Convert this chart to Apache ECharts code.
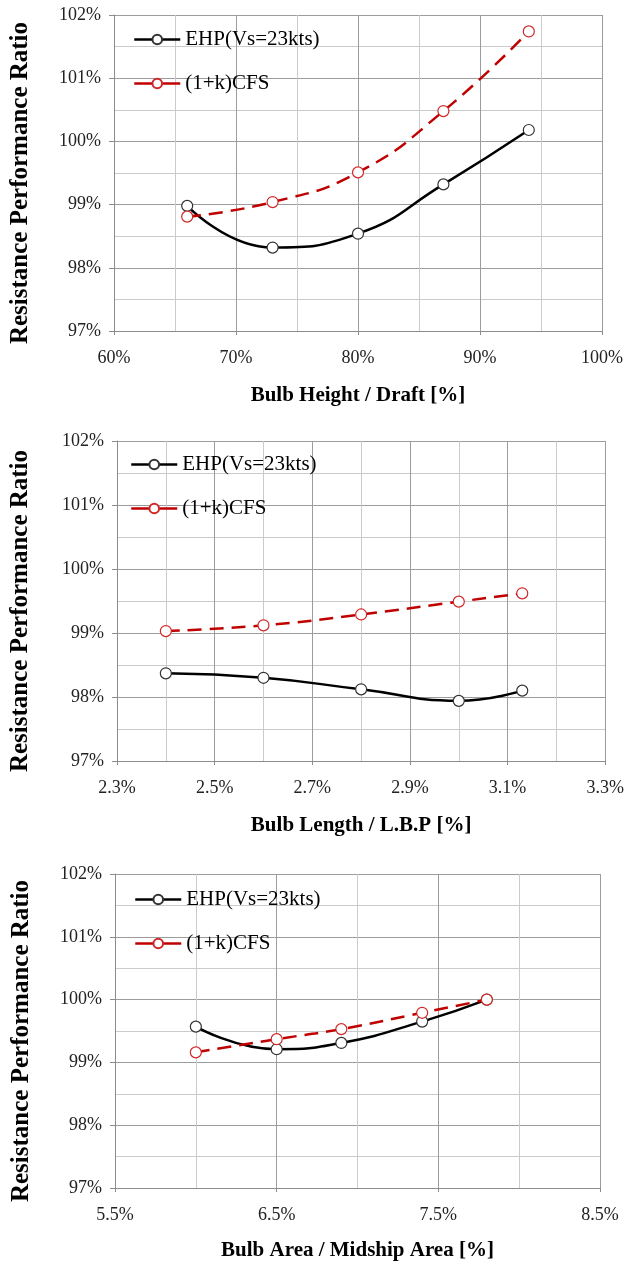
<!DOCTYPE html>
<html>
<head>
  <meta charset="utf-8">
  <title>Resistance Performance Ratio</title>
  <style>
    body { margin: 0; background: #fff; }
    #main { width: 627px; height: 1263px; }
  </style>
</head>
<body>
  <div id="main"></div>
  <script src="https://cdn.jsdelivr.net/npm/echarts@6/dist/echarts.min.js"></script>
  <script type="text/javascript">
    // chart 1: bulb height / draft
    const heightX = [66, 73, 80, 87, 94]
    const heightEHP = [98.98, 98.32, 98.54, 99.32, 100.18]
    const heightCFS = [98.81, 99.04, 99.51, 100.48, 101.74]
    const heightTicks = [60, 70, 80, 90, 100]

    // chart 2: bulb length / L.B.P
    const lengthX = [2.4, 2.6, 2.8, 3.0, 3.13]
    const lengthEHP = [98.37, 98.30, 98.12, 97.94, 98.10]
    const lengthCFS = [99.03, 99.12, 99.29, 99.49, 99.62]
    const lengthTicks = [2.3, 2.5, 2.7, 2.9, 3.1, 3.3]

    // chart 3: bulb area / midship area
    const areaX = [6.0, 6.5, 6.9, 7.4, 7.8]
    const areaEHP = [99.57, 99.21, 99.31, 99.65, 100.0]
    const areaCFS = [99.16, 99.37, 99.53, 99.79, 100.0]
    const areaTicks = [5.5, 6.5, 7.5, 8.5]

    const yTicks = [97, 98, 99, 100, 101, 102]

    const NAME_EHP = 'EHP(Vs=23kts)'
    const NAME_CFS = '(1+k)CFS'
    const FONT = 'Liberation Serif'
    const DARK = '#9c9c9c'
    const LIGHT = '#cbcbcb'
    const AXIS = '#8c8c8c'

    let zip = (xs, ys) => xs.map((x, i) => [x, ys[i]])

    let grids = [
      { left: 113, top: 15, width: 489, height: 316 },
      { left: 111, top: 441, width: 496, height: 320 },
      { left: 115, top: 874, width: 485, height: 314 },
    ]

    let xConf = [
      { name: 'Bulb Height / Draft [%]', ticks: heightTicks, digits: 0, gap: 54 },
      { name: 'Bulb Length / L.B.P [%]', ticks: lengthTicks, digits: 1, gap: 54 },
      { name: 'Bulb Area / Midship Area [%]', ticks: areaTicks, digits: 1, gap: 52 },
    ]
    let yGaps = [81, 84, 81]
    let legendPos = [
      { left: 133, top: 29 },
      { left: 130, top: 454 },
      { left: 134, top: 889 },
    ]
    let seriesData = [
      [heightX, heightEHP, heightCFS],
      [lengthX, lengthEHP, lengthCFS],
      [areaX, areaEHP, areaCFS],
    ]

    // major lines at the labelled ticks, lighter minor line half way between
    let gridLines = {
      splitLine: { show: true, lineStyle: { color: DARK, width: 1 } },
      minorTick: { show: false, splitNumber: 2 },
      minorSplitLine: { show: true, lineStyle: { color: LIGHT, width: 1 } },
    }

    let xAxes = xConf.map((c, i) => {
      let t = c.ticks
      return Object.assign({
        type: 'value',
        gridIndex: i,
        min: t[0],
        max: t[t.length - 1],
        interval: t[1] - t[0],
        name: c.name,
        nameLocation: 'middle',
        nameGap: c.gap,
        nameTextStyle: { fontFamily: FONT, fontWeight: 'bold', fontSize: 21, color: '#000' },
        axisLine: { show: true, lineStyle: { color: AXIS, width: 1 } },
        axisTick: { show: true, length: 4, lineStyle: { color: AXIS } },
        axisLabel: {
          margin: 18,
          fontFamily: FONT,
          fontSize: 18,
          color: '#222',
          formatter: (v) => v.toFixed(c.digits) + '%',
        },
      }, gridLines)
    })

    let yAxes = grids.map((g, i) => Object.assign({
      type: 'value',
      gridIndex: i,
      min: yTicks[0],
      max: yTicks[yTicks.length - 1],
      interval: 1,
      name: 'Resistance Performance Ratio',
      nameLocation: 'middle',
      nameGap: yGaps[i],
      nameTextStyle: { fontFamily: FONT, fontWeight: 'bold', fontSize: 25, color: '#000', padding: [0, 20, 0, 0] },
      axisLine: { show: true, lineStyle: { color: AXIS, width: 1 } },
      axisTick: { show: true, length: 5, lineStyle: { color: AXIS } },
      axisLabel: {
        margin: 13,
        fontFamily: FONT,
        fontSize: 18,
        color: '#222',
        formatter: (v) => Math.round(v) + '%',
      },
    }, gridLines))

    let series = []
    seriesData.forEach((d, i) => {
      series.push({
        name: NAME_EHP,
        type: 'line',
        xAxisIndex: i,
        yAxisIndex: i,
        data: zip(d[0], d[1]),
        smooth: 0.5,
        symbol: 'circle',
        symbolSize: 11,
        lineStyle: { color: '#000', width: 2.5 },
        itemStyle: { color: '#fff', borderColor: '#333', borderWidth: 1.2 },
        emphasis: { disabled: true },
        z: 3,
      })
      series.push({
        name: NAME_CFS,
        type: 'line',
        xAxisIndex: i,
        yAxisIndex: i,
        data: zip(d[0], d[2]),
        smooth: 0.5,
        symbol: 'circle',
        symbolSize: 11,
        lineStyle: { color: '#c00000', width: 2.5, type: [14, 8] },
        itemStyle: { color: '#fff', borderColor: '#d02828', borderWidth: 1.2 },
        emphasis: { disabled: true },
        z: 4,
      })
    })

    let legends = legendPos.map((p) => ({
      left: p.left,
      top: p.top,
      padding: 0,
      orient: 'vertical',
      itemWidth: 46,
      itemHeight: 12,
      itemGap: 23,
      selectedMode: false,
      lineStyle: { type: 'solid', width: 2.5 },
      textStyle: { fontFamily: FONT, fontSize: 21, color: '#000' },
      data: [NAME_EHP, NAME_CFS],
    }))

    const OPTION = {
      animation: false,
      backgroundColor: '#fff',
      legend: legends,
      grid: grids,
      xAxis: xAxes,
      yAxis: yAxes,
      series: series,
    }

    let drawChart = (option) => {
      let element = document.querySelector('#main')
      let chart = echarts.init(element, null, { renderer: 'canvas' })
      chart.setOption(option)
    }
    drawChart(OPTION)
  </script>
</body>
</html>
